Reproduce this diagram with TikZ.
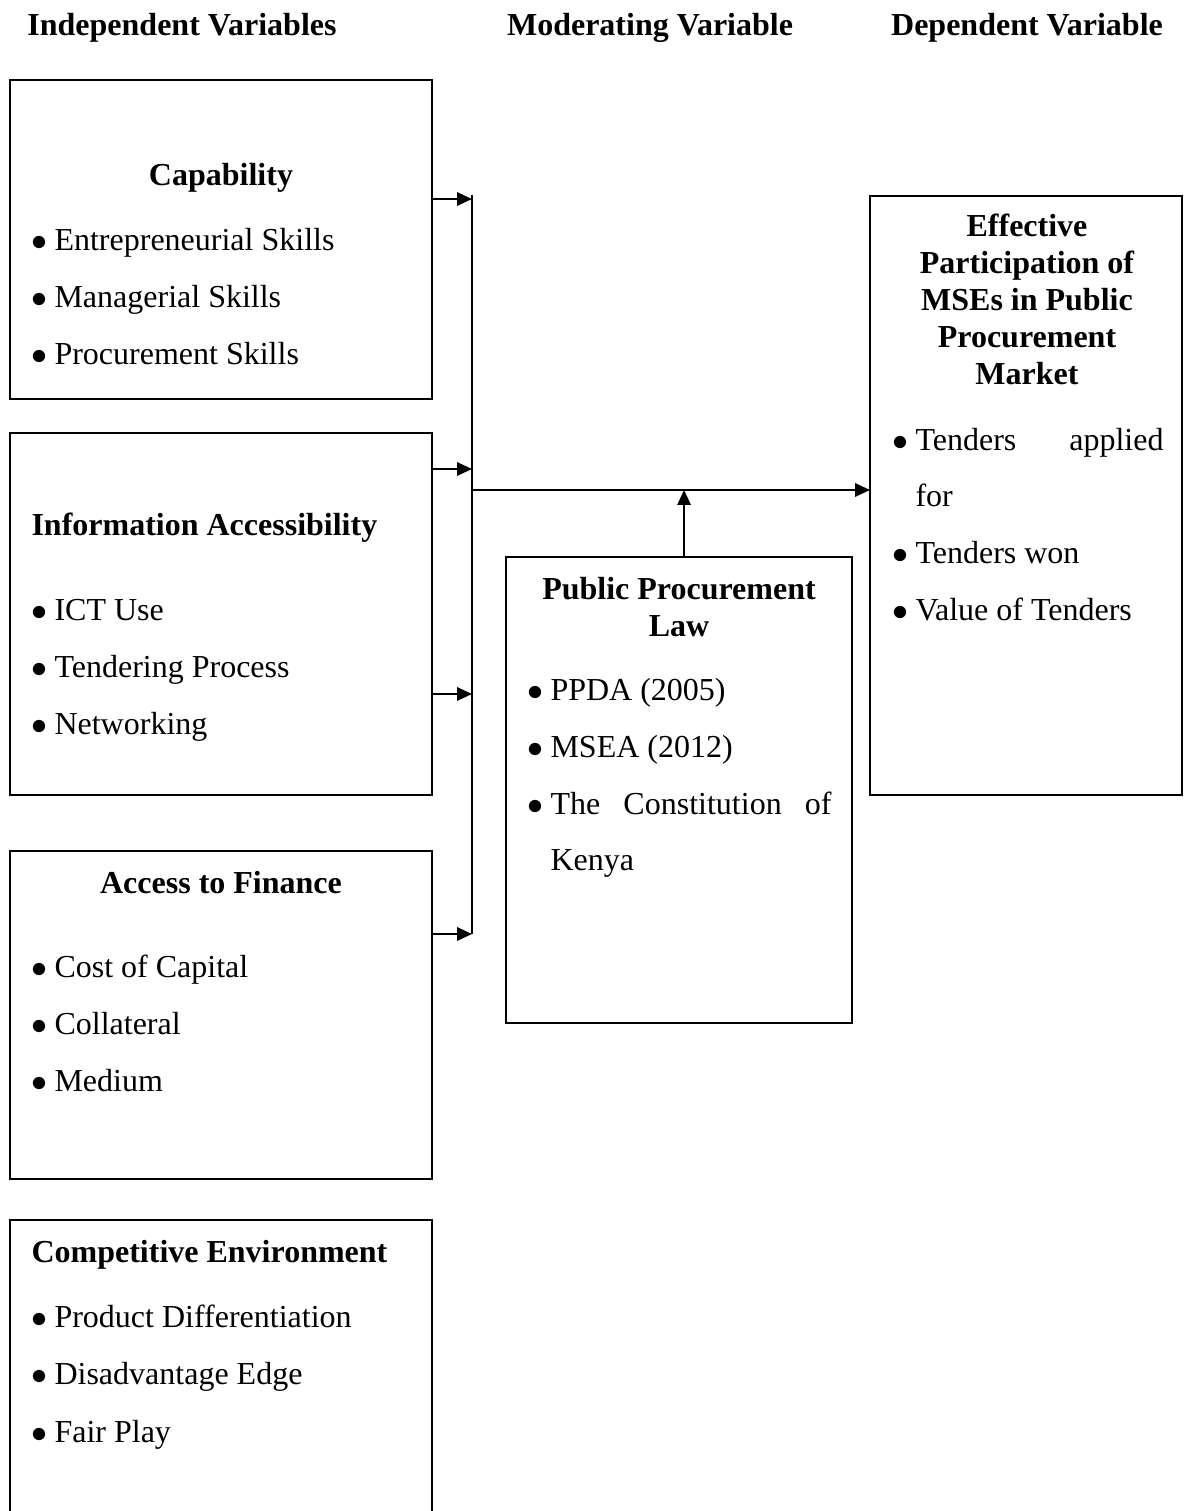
\documentclass[tikz,border=0pt]{standalone}
\usepackage{fontspec}
\setmainfont{Liberation Serif}
\usepackage{tikz}
\usetikzlibrary{arrows.meta,positioning}

\newcommand{\itembul}{\llap{$\bullet$\hspace{2.6pt}}}

\begin{document}
\begin{tikzpicture}[
  x=0.375pt, y=-0.375pt,
  every node/.style={font=\fontsize{12}{13.8}\selectfont, inner sep=0pt},
  box/.style={draw, line width=0.8pt, anchor=north west, outer sep=0pt},
  head/.style={font=\fontsize{12}{13.8}\selectfont\bfseries, anchor=base, align=center},
  itm/.style={anchor=base west},
  arr/.style={-{Triangle[length=5.6pt, width=5pt]}, line width=0.8pt}
]
  \useasboundingbox (0,0) rectangle (1183,1511);

  % column headings
  \node[head] (hind) at (182,35) {Independent Variables};
  \node[head] (hmod) at (650,35) {Moderating Variable};
  \node[head] (hdep) at (1027,35) {Dependent Variable};

  % boxes
  \node[box, minimum width=158.25pt, minimum height=119.63pt] (cap) at (10,80) {};
  \node[box, minimum width=158.25pt, minimum height=135.75pt] (info) at (10,433) {};
  \node[box, minimum width=158.25pt, minimum height=123pt] (fin) at (10,851) {};
  \node[box, minimum width=129.75pt, minimum height=174.75pt] (law) at (506,557) {};
  \node[box, minimum width=117pt, minimum height=224.63pt] (eff) at (870,196) {};
  \draw[line width=0.8pt] (10,1511) |- (432,1220) -- (432,1511);

  % capability
  \node[head] (tcap) at (221,185) {Capability};
  \node[itm] (c1) at (54,250) {\itembul Entrepreneurial Skills};
  \node[itm] (c2) at (54,307) {\itembul Managerial Skills};
  \node[itm] (c3) at (54,364) {\itembul Procurement Skills};

  % information
  \node[head, anchor=base west] (tinfo) at (31,535) {Information Accessibility};
  \node[itm] (i1) at (54,620) {\itembul ICT Use};
  \node[itm] (i2) at (54,677) {\itembul Tendering Process};
  \node[itm] (i3) at (54,734) {\itembul Networking};

  % finance
  \node[head] (tfin) at (221,893) {Access to Finance};
  \node[itm] (f1) at (54,977) {\itembul Cost of Capital};
  \node[itm] (f2) at (54,1034) {\itembul Collateral};
  \node[itm] (f3) at (54,1091) {\itembul Medium};

  % competition
  \node[head, anchor=base west] (tcomp) at (31,1262) {Competitive Environment};
  \node[itm] (e1) at (54,1327) {\itembul Product Differentiation};
  \node[itm] (e2) at (54,1384) {\itembul Disadvantage Edge};
  \node[itm] (e3) at (54,1442) {\itembul Fair Play};

  % law
  \node[head] (tlaw) at (679,636) {Public Procurement\\Law};
  \node[itm] (l1) at (550,700) {\itembul PPDA (2005)};
  \node[itm] (l2) at (550,757) {\itembul MSEA (2012)};
  \node[itm] (l3) at (550,814) {\itembul\makebox[105.4pt][s]{The Constitution of}};
  \node[itm] (l4) at (550,870) {Kenya};

  % participation
  \node[head] (teff) at (1027,384) {Effective\\Participation of\\MSEs in Public\\Procurement\\Market};
  \node[itm] (p1) at (915,450) {\itembul\makebox[93pt][s]{Tenders applied}};
  \node[itm] (p2) at (915,506) {for};
  \node[itm] (p3) at (915,563) {\itembul Tenders won};
  \node[itm] (p4) at (915,620) {\itembul Value of Tenders};

  % connectors
  \coordinate (top) at (472,195);
  \coordinate (b1) at (472,199);
  \coordinate (b2) at (472,469);
  \coordinate (b3) at (472,694);
  \coordinate (b4) at (472,934);
  \coordinate (jn) at (472,490);
  \draw[line width=0.8pt] (top) -- (b4);
  \draw[arr] (cap.east |- b1) -- (b1);
  \draw[arr] (info.east |- b2) -- (b2);
  \draw[arr] (info.east |- b3) -- (b3);
  \draw[arr] (fin.east |- b4) -- (b4);
  \draw[arr] (jn) -- (eff.west |- jn);
  \draw[arr] ([xshift=1.9pt]law.north) -- ([xshift=1.9pt]law.north |- jn);
\end{tikzpicture}
\end{document}
